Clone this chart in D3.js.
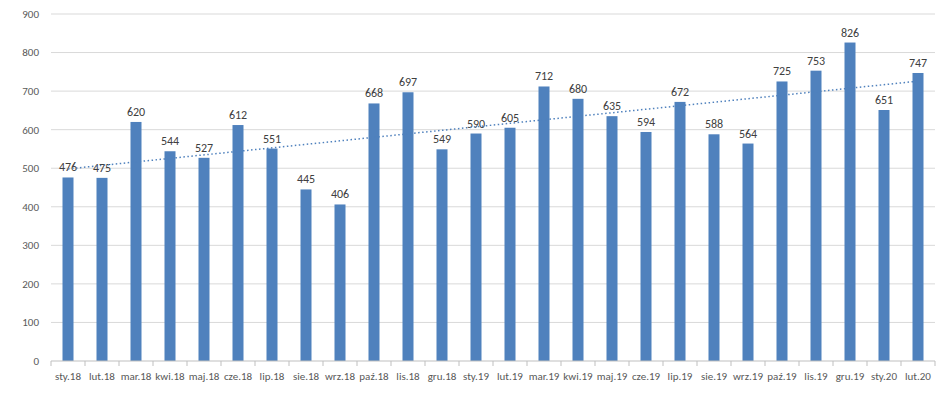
<!DOCTYPE html>
<html><head><meta charset="utf-8">
<script src="https://cdn.jsdelivr.net/npm/d3@7"></script>
<style>body{margin:0;background:#fff;font-family:Calibri,Carlito,"Liberation Sans",sans-serif}</style>
</head><body><div id="wrapper"></div>
<script>
const months = ["sty.18","lut.18","mar.18","kwi.18","maj.18","cze.18","lip.18","sie.18","wrz.18","paź.18","lis.18","gru.18","sty.19","lut.19","mar.19","kwi.19","maj.19","cze.19","lip.19","sie.19","wrz.19","paź.19","lis.19","gru.19","sty.20","lut.20"]
const values = [476,475,620,544,527,612,551,445,406,668,697,549,590,605,712,680,635,594,672,588,564,725,753,826,651,747]
const yTicks = [0,100,200,300,400,500,600,700,800,900]

const dimensions = {width: 945, height: 401, margin: {top: 14, right: 10, bottom: 40, left: 51}}
dimensions.boundedWidth = dimensions.width - dimensions.margin.left - dimensions.margin.right
dimensions.boundedHeight = dimensions.height - dimensions.margin.top - dimensions.margin.bottom

const svg = d3.select("#wrapper").append("svg")
    .attr("width", dimensions.width).attr("height", dimensions.height)
const bounds = svg.append("g")
    .attr("transform", `translate(${dimensions.margin.left},${dimensions.margin.top})`)

const xScale = d3.scaleBand().domain(months).range([0, dimensions.boundedWidth])
const yScale = d3.scaleLinear().domain([0, 900]).range([dimensions.boundedHeight, 0])

// gridlines
bounds.selectAll(".grid").data(yTicks.slice(1)).join("line")
    .attr("x1", 0).attr("x2", dimensions.boundedWidth)
    .attr("y1", d => yScale(d)).attr("y2", d => yScale(d))
    .attr("stroke", "#d9d9d9")

// y labels
bounds.selectAll(".ylab").data(yTicks).join("text")
    .attr("x", -12).attr("y", d => yScale(d)).attr("dy", "0.35em")
    .attr("text-anchor", "end").attr("font-size", 11).attr("fill", "#595959")
    .text(d => d)

// bars
const barW = 11
bounds.selectAll(".bar").data(values).join("rect")
    .attr("x", (d, i) => xScale(months[i]) + xScale.bandwidth() / 2 - barW / 2)
    .attr("width", barW)
    .attr("y", d => yScale(d))
    .attr("height", d => dimensions.boundedHeight - yScale(d))
    .attr("fill", "#4f81bd")

// value labels
bounds.selectAll(".vlab").data(values).join("text")
    .attr("x", (d, i) => xScale(months[i]) + xScale.bandwidth() / 2)
    .attr("y", d => yScale(d) - 6)
    .attr("text-anchor", "middle").attr("font-size", 12).attr("fill", "#404040")
    .text(d => d)

// linear trendline (least squares)
const n = values.length
const xm = d3.mean(values, (d, i) => i), ym = d3.mean(values)
const slope = d3.sum(values, (d, i) => (i - xm) * (d - ym)) / d3.sum(values, (d, i) => (i - xm) ** 2)
const icpt = ym - slope * xm
const cx = i => xScale(months[i]) + xScale.bandwidth() / 2
bounds.append("line")
    .attr("x1", cx(0)).attr("y1", yScale(icpt))
    .attr("x2", cx(n - 1)).attr("y2", yScale(icpt + slope * (n - 1)))
    .attr("stroke", "#4f81bd").attr("stroke-width", 1.5).attr("stroke-dasharray", "1.5,2.5")

// x axis
const xAxis = bounds.append("g").attr("transform", `translate(0,${dimensions.boundedHeight})`)
xAxis.append("line").attr("x1", 0).attr("x2", dimensions.boundedWidth).attr("stroke", "#bfbfbf")
xAxis.selectAll(".tick").data(d3.range(n + 1)).join("line")
    .attr("x1", i => i * xScale.bandwidth()).attr("x2", i => i * xScale.bandwidth())
    .attr("y1", 0).attr("y2", 5).attr("stroke", "#bfbfbf")
xAxis.selectAll(".xlab").data(months).join("text")
    .attr("x", d => xScale(d) + xScale.bandwidth() / 2).attr("y", 19)
    .attr("text-anchor", "middle").attr("font-size", 11).attr("fill", "#595959")
    .text(d => d)
</script></body></html>
